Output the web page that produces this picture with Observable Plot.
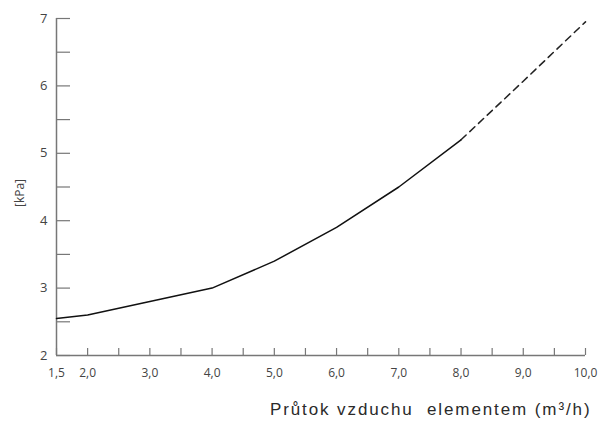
<!DOCTYPE html>
<html><head><meta charset="utf-8">
<script src="https://cdn.jsdelivr.net/npm/d3@7"></script>
<script src="https://cdn.jsdelivr.net/npm/@observablehq/plot@0.6"></script>
<style>body{margin:0;background:#fff}</style>
</head><body><div id="chart"></div>
<script>
const solidFlow = [1.5, 2.0, 3.0, 4.0, 5.0, 6.0, 7.0, 8.0];
const solidPressure = [2.55, 2.6, 2.8, 3.0, 3.4, 3.9, 4.5, 5.2];
const dashedFlow = [8.0, 9.0, 10.0];
const dashedPressure = [5.2, 6.07, 6.95];
const xTickValues = [1.5, 2.0, 2.5, 3.0, 3.5, 4.0, 4.5, 5.0, 5.5, 6.0, 6.5, 7.0, 7.5, 8.0, 8.5, 9.0, 9.5, 10.0];
const xLabelValues = [1.5, 2.0, 3.0, 4.0, 5.0, 6.0, 7.0, 8.0, 9.0, 10.0];
const yTickValues = [2, 2.5, 3, 3.5, 4, 4.5, 5, 5.5, 6, 6.5, 7];
const yLabelValues = [2, 3, 4, 5, 6, 7];
const yTitle = "[kPa]";
const xTitle = "Průtok vzduchu  elementem (m³/h)";

const solid = solidFlow.map((x, i) => ({x, y: solidPressure[i]}));
const dashed = dashedFlow.map((x, i) => ({x, y: dashedPressure[i]}));
const fmt = d => d.toFixed(1).replace(".", ",");

const chart = Plot.plot({
  width: 607, height: 423,
  marginLeft: 56, marginRight: 22, marginTop: 18, marginBottom: 68,
  style: {fontFamily: "'Open Sans', sans-serif", fontSize: "12px", color: "#444", background: "#fff"},
  x: {domain: [1.5, 10], axis: null},
  y: {domain: [2, 7], axis: null},
  marks: [
    Plot.axisX({ticks: xTickValues, tickSize: -7, tickFormat: () => "", label: null, stroke: "#777", strokeWidth: 1.2}),
    Plot.axisX({ticks: xLabelValues, tickSize: 0, tickPadding: 13, tickFormat: fmt, label: null, fill: "#444", fontSize: 12}),
    Plot.axisY({ticks: yTickValues, tickSize: -14, tickFormat: () => "", label: null, stroke: "#777", strokeWidth: 1.2}),
    Plot.axisY({ticks: yLabelValues, tickSize: 0, tickPadding: 9, tickFormat: d => String(d), label: null, fill: "#444", fontSize: 13}),
    Plot.ruleX([1.5], {stroke: "#777", strokeWidth: 1.5}),
    Plot.ruleY([2], {stroke: "#777", strokeWidth: 1.5}),
    Plot.line(solid, {x: "x", y: "y", stroke: "#111", strokeWidth: 1.5}),
    Plot.line(dashed, {x: "x", y: "y", stroke: "#222", strokeWidth: 1.5, strokeDasharray: "7,5"}),
    Plot.text([yTitle], {frameAnchor: "left", dx: -36, dy: 20, rotate: -90, fill: "#444", fontSize: 12}),
    Plot.text([xTitle], {frameAnchor: "bottom-right", dx: 6, dy: 59, textAnchor: "end", lineAnchor: "bottom",
      fill: "#2a2a2a", fontSize: 17, fontFamily: "'Liberation Sans', Arial, sans-serif"})
  ]
});
d3.select(chart).selectAll("text").filter(function() { return this.textContent === xTitle; })
  .style("letter-spacing", "1.9px");
document.getElementById("chart").append(chart);
</script></body></html>
